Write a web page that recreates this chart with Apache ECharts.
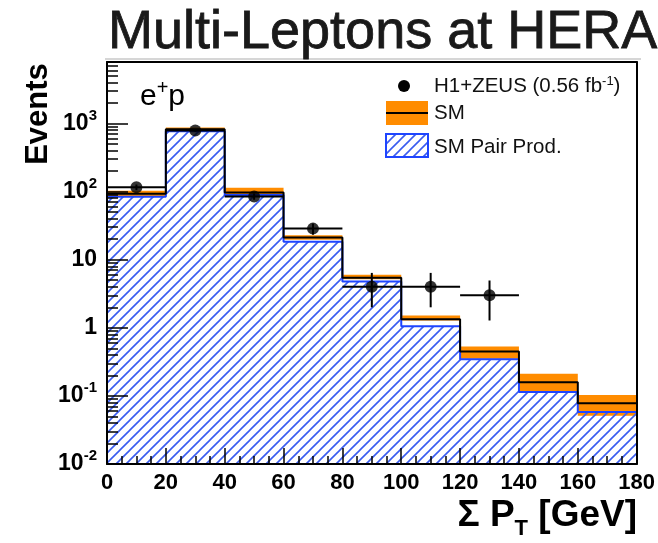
<!DOCTYPE html>
<html><head><meta charset="utf-8">
<script src="https://cdn.jsdelivr.net/npm/echarts@6/dist/echarts.min.js"></script>
<style>html,body{margin:0;padding:0;background:#fff}#c{width:658px;height:543px}</style>
</head><body><div id="c"></div>
<script>
// ---- data ----
const binLow = [0, 20, 40, 60, 80, 100, 120, 140, 160];
const binWidth = 20;
const pairProd   = [84, 771, 89, 18.4, 4.8, 1.05, 0.345, 0.114, 0.058];
const smCentral  = [93, 822, 97, 21.1, 5.43, 1.33, 0.449, 0.159, 0.078];
const smErrLow   = [86, 788, 90, 19.7, 5.17, 1.28, 0.35, 0.118, 0.051];
const smErrHigh  = [103, 877, 114, 22.8, 6.02, 1.52, 0.531, 0.211, 0.103];
const dataX      = [10, 30, 50, 70, 90, 110, 130];
const dataY      = [116, 788, 85, 28.6, 4, 4, 3];
const dataErrUp  = [11, 28, 9.2, 5.3, 2.4, 2.4, 1.95];
const dataErrDown= [11, 28, 9.2, 5.3, 2.0, 2.0, 1.72];
const yLabelValues = [0.01, 0.1, 1, 10, 100, 1000];
const xTickLabels = ['0','20','40','60','80','100','120','140','160','180'];
const yMin = 0.01, yMax = 8000;

const FONT = 'Liberation Sans';
const ORANGE = '#ff8c00';
const BLUE = '#1f45ff';

// minor ticks 2..9 x 10^k
const yMinor = [];
yLabelValues.forEach(d => { for (let m = 2; m <= 9; m++) { const v = d * m; if (v <= yMax) yMinor.push(v); } });

// hatch pattern
function hatch(size) {
  const c = document.createElement('canvas');
  c.width = size; c.height = size;
  const g = c.getContext('2d');
  g.strokeStyle = '#3a5cf0'; g.lineWidth = 1.6;
  g.beginPath();
  g.moveTo(0, size); g.lineTo(size, 0);
  g.moveTo(-size/2, size/2); g.lineTo(size/2, -size/2);
  g.moveTo(size/2, size*1.5); g.lineTo(size*1.5, size/2);
  g.stroke();
  return c;
}
const hatchImg = hatch(10);

// step data: left edges plus final right edge
function stepData(vals) {
  const d = binLow.map((x, i) => [x, vals[i]]);
  d.push([binLow[binLow.length - 1] + binWidth, vals[vals.length - 1]]);
  return d;
}

function powLabel(v) {
  const e = Math.round(Math.log10(v));
  if (e === 0) return '{b|1}';
  if (e === 1) return '{b|10}';
  return '{b|10}{s|' + e + '}';
}

const chart = echarts.init(document.getElementById('c'), null, {renderer: 'canvas'});
const tickStyle = {color: '#000', width: 1.5};

chart.setOption({
  animation: false,
  backgroundColor: '#fff',
  title: {
    text: 'Multi-Leptons at HERA', left: 103, top: 1,
    textStyle: {fontFamily: FONT, fontSize: 54, fontWeight: 'normal', color: '#1a1a1a',
      textBorderColor: '#1a1a1a', textBorderWidth: 0.8}
  },
  grid: {left: 107, right: 20, top: 62, bottom: 79, containLabel: false, show: false},
  xAxis: [{
    type: 'value', min: 0, max: 180, interval: 20, position: 'bottom', z: 10,
    axisLine: {onZero: false, lineStyle: {color: '#000', width: 2}},
    axisTick: {inside: true, length: 16, lineStyle: tickStyle},
    minorTick: {show: true, splitNumber: 4, length: 8, lineStyle: tickStyle},
    splitLine: {show: false}, minorSplitLine: {show: false},
    axisLabel: {margin: 8, fontFamily: FONT, fontWeight: 'bold', fontSize: 22, color: '#000',
      formatter: (v) => xTickLabels[Math.round(v / 20)]}
  }, {
    type: 'value', min: 0, max: 180, position: 'top', z: 10,
    axisLine: {show: true, onZero: false, lineStyle: {color: '#000', width: 2}},
    axisTick: {show: false}, axisLabel: {show: false}, splitLine: {show: false}
  }],
  yAxis: [{
    type: 'log', logBase: 10, min: yMin, max: yMax, position: 'left', z: 10,
    axisLine: {show: true, onZero: false, lineStyle: {color: '#000', width: 2}},
    axisTick: {inside: true, length: 21, customValues: yLabelValues, lineStyle: tickStyle},
    axisLabel: {
      customValues: yLabelValues, margin: 10, formatter: powLabel,
      rich: {
        b: {fontFamily: FONT, fontWeight: 'bold', fontSize: 23, color: '#000', verticalAlign: 'bottom', lineHeight: 23},
        s: {fontFamily: FONT, fontWeight: 'bold', fontSize: 15, color: '#000', verticalAlign: 'bottom', lineHeight: 15, padding: [0, 0, 12, 0]}
      }
    },
    splitLine: {show: false}
  }, {
    type: 'log', logBase: 10, min: yMin, max: yMax, position: 'left', z: 10,
    axisLine: {show: false},
    axisTick: {inside: true, length: 11, customValues: yMinor, lineStyle: tickStyle},
    axisLabel: {show: false}, splitLine: {show: false}
  }, {
    type: 'log', logBase: 10, min: yMin, max: yMax, position: 'right', z: 10,
    axisLine: {show: true, onZero: false, lineStyle: {color: '#000', width: 2}},
    axisTick: {show: false}, axisLabel: {show: false}, splitLine: {show: false}
  }],
  series: [
    {
      name: 'SM band', type: 'custom', z: 1,
      data: binLow.map((x, i) => [x, x + binWidth, smErrLow[i], smErrHigh[i]]),
      encode: {x: [0, 1], y: [2, 3]},
      renderItem: (params, api) => {
        const p1 = api.coord([api.value(0), api.value(3)]);
        const p2 = api.coord([api.value(1), api.value(2)]);
        return {type: 'rect', shape: {x: p1[0], y: p1[1], width: p2[0] - p1[0], height: p2[1] - p1[1]},
          style: {fill: ORANGE}};
      }
    },
    {
      name: 'SM Pair Prod.', type: 'line', step: 'end', z: 2, symbol: 'none',
      data: stepData(pairProd),
      lineStyle: {color: BLUE, width: 2},
      areaStyle: {origin: 'start', color: {image: hatchImg, repeat: 'repeat'}, opacity: 1}
    },
    {
      name: 'SM', type: 'line', step: 'end', z: 3, symbol: 'none',
      data: stepData(smCentral),
      lineStyle: {color: '#000', width: 2}
    },
    {
      name: 'errors', type: 'custom', z: 4,
      data: dataX.map((x, i) => [x, dataY[i], dataY[i] - dataErrDown[i], dataY[i] + dataErrUp[i]]),
      encode: {x: 0, y: [1, 2, 3]},
      renderItem: (params, api) => {
        const x = api.value(0), y = api.value(1);
        const a = api.coord([x - binWidth / 2, y]);
        const b = api.coord([x + binWidth / 2, y]);
        const lo = api.coord([x, api.value(2)]);
        const hi = api.coord([x, api.value(3)]);
        const st = {stroke: '#000', lineWidth: 2};
        return {type: 'group', children: [
          {type: 'line', shape: {x1: a[0], y1: a[1], x2: b[0], y2: b[1]}, style: st},
          {type: 'line', shape: {x1: lo[0], y1: lo[1], x2: hi[0], y2: hi[1]}, style: st}
        ]};
      }
    },
    {
      name: 'H1+ZEUS', type: 'scatter', z: 5, symbol: 'circle', symbolSize: 12,
      data: dataX.map((x, i) => [x, dataY[i]]),
      itemStyle: {color: '#000'}
    }
  ],
  graphic: [
    {type: 'line', shape: {x1: 105, y1: 59, x2: 641, y2: 59}, style: {stroke: '#c8c8c8', lineWidth: 1.5}},
    {type: 'text', x: 38, y: 114, rotation: Math.PI / 2,
      style: {text: 'Events', fontFamily: FONT, fontWeight: 'bold', fontSize: 31, fill: '#000', align: 'center', verticalAlign: 'middle'}},
    {type: 'text', x: 637, y: 516,
      style: {text: '{a|Σ P}{s|T}{a| [GeV]}', align: 'right', verticalAlign: 'middle',
        rich: {
          a: {fontFamily: FONT, fontWeight: 'bold', fontSize: 37, fill: '#000', verticalAlign: 'top', lineHeight: 37},
          s: {fontFamily: FONT, fontWeight: 'bold', fontSize: 22, fill: '#000', verticalAlign: 'top', lineHeight: 22, padding: [20, 0, 0, 0]}
        }}},
    {type: 'text', x: 140, y: 97,
      style: {text: '{e|e}{p|+}{e|p}', align: 'left', verticalAlign: 'middle',
        rich: {
          e: {fontFamily: FONT, fontSize: 30, fill: '#000', verticalAlign: 'bottom', lineHeight: 30},
          p: {fontFamily: FONT, fontSize: 20, fill: '#000', verticalAlign: 'bottom', lineHeight: 20, padding: [0, 0, 14, 0]}
        }}},
    // legend
    {type: 'circle', shape: {cx: 404, cy: 86, r: 6}, style: {fill: '#000'}},
    {type: 'text', x: 434, y: 87,
      style: {text: '{t|H1+ZEUS (0.56 fb}{s|-1}{t|)}', verticalAlign: 'middle',
        rich: {
          t: {fontFamily: FONT, fontSize: 20.5, fill: '#111', verticalAlign: 'bottom', lineHeight: 20},
          s: {fontFamily: FONT, fontSize: 13, fill: '#111', verticalAlign: 'bottom', lineHeight: 13, padding: [0, 0, 9, 0]}
        }}},
    {type: 'rect', shape: {x: 386, y: 101, width: 42, height: 24}, style: {fill: ORANGE}},
    {type: 'line', shape: {x1: 386, y1: 113, x2: 428, y2: 113}, style: {stroke: '#000', lineWidth: 2}},
    {type: 'text', x: 434, y: 113, style: {text: 'SM', fontFamily: FONT, fontSize: 20.5, fill: '#111', verticalAlign: 'middle'}},
    {type: 'rect', shape: {x: 386, y: 134, width: 42, height: 23},
      style: {fill: {image: hatchImg, repeat: 'repeat'}, stroke: BLUE, lineWidth: 2}},
    {type: 'text', x: 434, y: 147, style: {text: 'SM Pair Prod.', fontFamily: FONT, fontSize: 20.5, fill: '#111', verticalAlign: 'middle'}}
  ]
});
</script></body></html>
